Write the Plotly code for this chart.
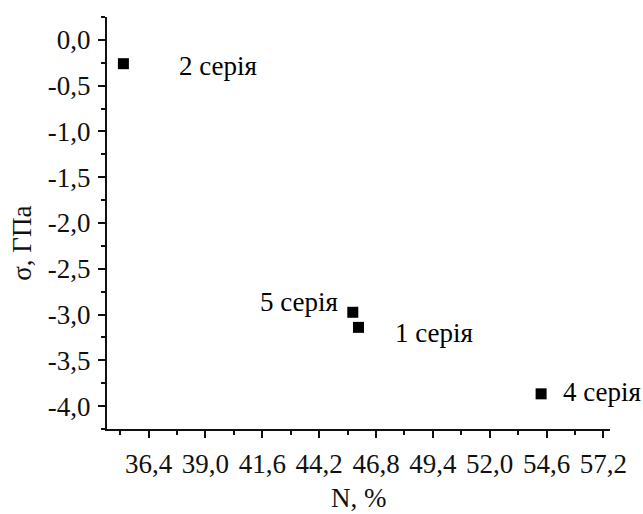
import plotly.graph_objects as go

# Nitrogen content (%) and residual stress (GPa) for each coating series
series = ["1 серія", "2 серія", "4 серія", "5 серія"]
nitrogen = [46.0, 35.25, 54.35, 45.74]
stress = [-3.14, -0.26, -3.866, -2.975]

x_ticks = [36.4, 39.0, 41.6, 44.2, 46.8, 49.4, 52.0, 54.6, 57.2]
x_tick_text = ["36,4", "39,0", "41,6", "44,2", "46,8", "49,4", "52,0", "54,6", "57,2"]
y_ticks = [0.0, -0.5, -1.0, -1.5, -2.0, -2.5, -3.0, -3.5, -4.0]
y_tick_text = ["0,0", "-0,5", "-1,0", "-1,5", "-2,0", "-2,5", "-3,0", "-3,5", "-4,0"]

# label offsets (px) relative to each marker
label_style = {
    "1 серія": dict(xshift=34, yshift=-6, xanchor="left"),
    "2 серія": dict(xshift=54, yshift=-2, xanchor="left"),
    "4 серія": dict(xshift=20, yshift=2, xanchor="left"),
    "5 серія": dict(xshift=-13, yshift=10, xanchor="right"),
}

FONT = "Liberation Serif"
SIZE = 27
INK = "#111111"

fig = go.Figure()
fig.add_trace(go.Scatter(
    x=nitrogen, y=stress, mode="markers",
    marker=dict(symbol="square", size=11, color="black"),
    showlegend=False, hoverinfo="x+y",
))

for name, xv, yv in zip(series, nitrogen, stress):
    st = label_style[name]
    fig.add_annotation(
        x=xv, y=yv, text=name, showarrow=False,
        xshift=st["xshift"], yshift=st["yshift"], xanchor=st["xanchor"],
        yanchor="middle", font=dict(family=FONT, size=SIZE, color="black"),
    )

# axis titles, positioned in paper coordinates
fig.add_annotation(
    text="σ, ГПа", xref="paper", yref="paper", x=-0.169, y=0.452,
    xanchor="center", yanchor="middle", textangle=-90, showarrow=False,
    font=dict(family=FONT, size=SIZE, color=INK),
)
fig.add_annotation(
    text="N, %", xref="paper", yref="paper", x=0.5, y=-0.167,
    xanchor="center", yanchor="middle", showarrow=False,
    font=dict(family=FONT, size=SIZE, color=INK),
)

axis_common = dict(
    showgrid=False, zeroline=False, showline=True, linecolor=INK, linewidth=2,
    ticks="outside", ticklen=7, tickwidth=2, tickcolor=INK,
    tickfont=dict(family=FONT, size=SIZE, color=INK),
    mirror=False, automargin=False,
)

fig.update_xaxes(
    **axis_common, range=[34.5, 57.5], tickmode="array",
    tickvals=x_ticks, ticktext=x_tick_text, ticklabelstandoff=3,
    minor=dict(ticks="outside", ticklen=4, tickwidth=2, tickcolor=INK, dtick=1.3, tick0=36.4),
)
fig.update_yaxes(
    **axis_common, range=[-4.25, 0.25], tickmode="array",
    tickvals=y_ticks, ticktext=y_tick_text, ticklabelstandoff=2,
    minor=dict(ticks="outside", ticklen=4, tickwidth=2, tickcolor=INK, dtick=0.25, tick0=0),
)

fig.update_layout(
    width=643, height=514,
    margin=dict(l=107, r=33, t=17, b=85),
    plot_bgcolor="white", paper_bgcolor="white",
    font=dict(family=FONT),
)

fig.write_html("out.html")
